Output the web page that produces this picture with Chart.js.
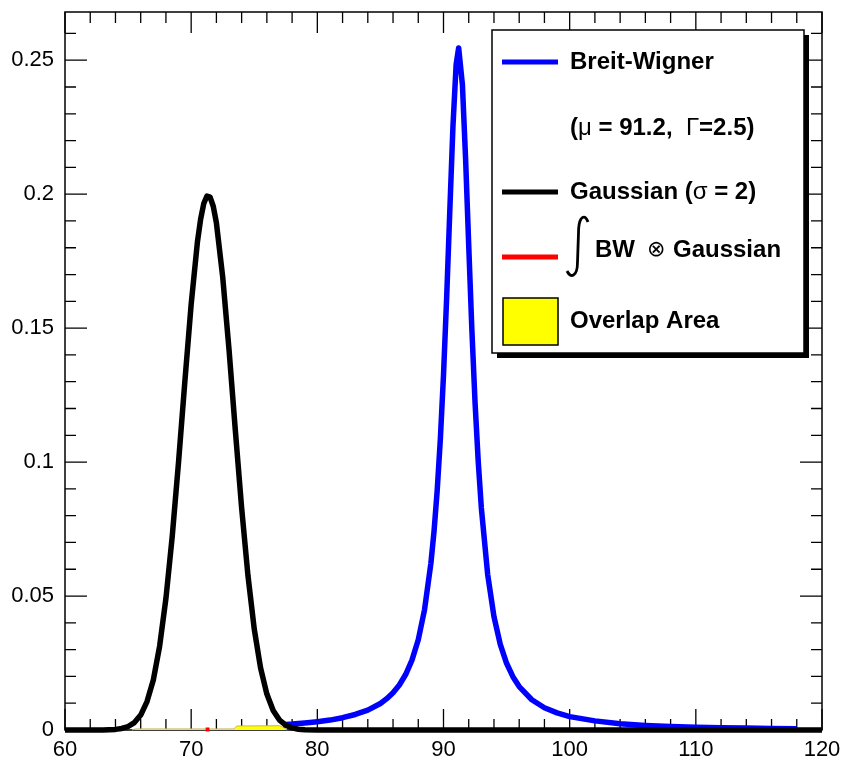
<!DOCTYPE html>
<html>
<head>
<meta charset="utf-8">
<script src="https://cdn.jsdelivr.net/npm/chart.js@4.4.0/dist/chart.umd.min.js"></script>
<style>
  body { margin: 0; background: #fff; }
  #wrap { width: 848px; height: 761px; }
</style>
</head>
<body>
<div id="wrap"><canvas id="c" width="848" height="761"></canvas></div>
<script>
// values
const gaussX = [60, 62, 63, 64, 64.5, 65, 65.5, 66, 66.5, 67, 67.5, 68, 68.5, 69, 69.5, 70, 70.5, 70.75, 71, 71.25,
  71.5, 71.75, 72, 72.5, 73, 73.5, 74, 74.5, 75, 75.5, 76, 76.5, 77, 77.5, 78, 78.5, 79, 80, 90, 100, 110, 120];
const gaussY = [0, 0, 0.00004, 0.00023, 0.00057, 0.00129, 0.00277, 0.00557, 0.0106, 0.0187, 0.0313, 0.0491, 0.0723, 0.1000, 0.1301,
  0.1589, 0.1823, 0.1907, 0.1965, 0.1993, 0.1989, 0.1955, 0.1893, 0.1691, 0.1420, 0.1119, 0.0829, 0.0577, 0.0377, 0.0232,
  0.0134, 0.0073, 0.0037, 0.0018, 0.0008, 0.0003, 0.0001, 0, 0, 0, 0, 0];

const bwX = [77.3, 78, 79, 80, 81, 82, 83, 84, 85, 85.5, 86, 86.5, 87, 87.5, 88, 88.5, 89, 89.25, 89.5, 89.75, 90, 90.25, 90.5,
  90.75, 91, 91.2, 91.5, 91.75, 92, 92.25, 92.5, 92.75, 93, 93.5, 94, 94.5, 95, 95.5, 96, 97, 98, 99, 100, 102, 104, 106,
  108, 110, 112, 114, 116, 118];
const bwY = [0.0020, 0.0022, 0.0026, 0.0031, 0.0037, 0.0046, 0.0058, 0.0074, 0.0099, 0.0117, 0.0139, 0.0168, 0.0207, 0.0261,
  0.0337, 0.0450, 0.0622, 0.0742, 0.0894, 0.1086, 0.1325, 0.1614, 0.1939, 0.2254, 0.2483, 0.2546, 0.2408, 0.2134, 0.1807,
  0.1493, 0.1223, 0.1004, 0.0829, 0.0581, 0.0423, 0.0320, 0.0249, 0.0199, 0.0162, 0.0113, 0.0083, 0.0064, 0.0050, 0.0034,
  0.0023, 0.0017, 0.0013, 0.0010, 0.0008, 0.0007, 0.0006, 0.0005];

const convX = [71.15, 71.45];
const convY = [0.0002, 0.0002];

const overlapX = [65.3, 65.6, 73.4, 73.6, 77.0, 77.3, 77.6];
const overlapY = [0, 0.0004, 0.0004, 0.0015, 0.0016, 0.0010, 0];

const xMin = 60, xMax = 120, yMin = 0, yMax = 0.268;
const xTickStep = 10, yTickStep = 0.05;

function pts(xs, ys) { return xs.map((x, i) => ({ x: x, y: ys[i] })); }

const FONT = '"Liberation Sans", Arial, Helvetica, sans-serif';

// ROOT-like frame with inward ticks on all four sides
const frame = {
  id: 'frame',
  beforeDatasetsDraw(chart) {
    const { ctx, chartArea: a, scales: { x, y } } = chart;
    ctx.save();
    ctx.strokeStyle = '#000';
    ctx.lineWidth = 1.5;
    ctx.strokeRect(a.left, a.top, a.right - a.left, a.bottom - a.top);
    ctx.lineWidth = 1.3;
    ctx.beginPath();
    for (let v = xMin; v <= xMax + 1e-9; v += 2) {
      const px = x.getPixelForValue(v);
      const len = (Math.abs(v % 10) < 1e-6) ? 21 : 11;
      ctx.moveTo(px, a.bottom); ctx.lineTo(px, a.bottom - len);
      ctx.moveTo(px, a.top); ctx.lineTo(px, a.top + len);
    }
    for (let i = 0; i * 0.01 <= yMax; i++) {
      const py = y.getPixelForValue(i * 0.01);
      const len = (i % 5 === 0) ? 22 : 11;
      ctx.moveTo(a.left, py); ctx.lineTo(a.left + len, py);
      ctx.moveTo(a.right, py); ctx.lineTo(a.right - len, py);
    }
    ctx.stroke();
    ctx.restore();
  }
};

function rich(ctx, parts, x, y) {
  let cx = x;
  parts.forEach(p => {
    ctx.font = p[1];
    ctx.fillText(p[0], cx, y);
    cx += ctx.measureText(p[0]).width;
  });
}

const legendBox = {
  id: 'legendBox',
  afterDraw(chart) {
    const ctx = chart.ctx;
    const bx = 492, by = 30, bw = 312, bh = 323;
    ctx.save();
    ctx.fillStyle = '#000';
    ctx.fillRect(bx + 5, by + 5, bw, bh);
    ctx.fillStyle = '#fff';
    ctx.fillRect(bx, by, bw, bh);
    ctx.strokeStyle = '#000';
    ctx.lineWidth = 1.5;
    ctx.strokeRect(bx, by, bw, bh);

    const bold = 'bold 24px ' + FONT;
    const sym = '24px ' + FONT;
    ctx.lineWidth = 5;
    const line = (col, yy) => {
      ctx.strokeStyle = col;
      ctx.beginPath(); ctx.moveTo(502, yy); ctx.lineTo(558, yy); ctx.stroke();
    };
    line('#0000ff', 62);
    line('#000000', 192);
    line('#ff0000', 257);

    ctx.fillStyle = '#ffff00';
    ctx.fillRect(503, 298, 55, 47);
    ctx.lineWidth = 1.5;
    ctx.strokeStyle = '#000';
    ctx.strokeRect(503, 298, 55, 47);

    ctx.fillStyle = '#000';
    ctx.textBaseline = 'middle';
    ctx.textAlign = 'left';
    rich(ctx, [['Breit-Wigner', bold]], 570, 62);
    rich(ctx, [['(', bold], ['\u03bc', sym], [' = 91.2,  ', bold], ['\u0393', sym], ['=2.5)', bold]], 570, 128);
    rich(ctx, [['Gaussian (', bold], ['\u03c3', sym], [' = 2)', bold]], 570, 192);
    rich(ctx, [['BW', bold]], 595, 250);
    rich(ctx, [['\u2297', '22px "DejaVu Sans", sans-serif']], 647, 250);
    rich(ctx, [['Gaussian', bold]], 673, 250);
    rich(ctx, [['Overlap Area', bold]], 570, 321);

    // integral sign
    ctx.strokeStyle = '#000';
    ctx.lineWidth = 2.8;
    ctx.beginPath();
    ctx.moveTo(588, 222);
    ctx.quadraticCurveTo(585, 214, 581, 219);
    ctx.quadraticCurveTo(578.5, 223, 578.5, 233);
    ctx.lineTo(577.5, 262);
    ctx.quadraticCurveTo(577.5, 273, 573.5, 275);
    ctx.quadraticCurveTo(570, 277, 567, 271);
    ctx.stroke();
    ctx.restore();
  }
};

new Chart(document.getElementById('c'), {
  type: 'line',
  data: {
    datasets: [
      { label: 'conv', data: pts(convX, convY), borderColor: '#ff0000', borderWidth: 4, pointRadius: 0, tension: 0, clip: false },
      { label: 'Gaussian', data: pts(gaussX, gaussY), borderColor: '#000000', borderWidth: 5.5, borderJoinStyle: 'round',
        pointRadius: 0, tension: 0, clip: false },
      { label: 'Breit-Wigner', data: pts(bwX, bwY), borderColor: '#0000ff', borderWidth: 5.5, borderJoinStyle: 'round',
        pointRadius: 0, tension: 0, clip: false },
      { label: 'Overlap', data: pts(overlapX, overlapY), borderColor: '#c9b75a', backgroundColor: '#ffff00', borderWidth: 1,
        fill: 'origin', pointRadius: 0, tension: 0, clip: false }
    ]
  },
  options: {
    responsive: false,
    animation: false,
    devicePixelRatio: 1,
    layout: { padding: { top: 12, right: 26, left: 0, bottom: 0 } },
    plugins: { legend: { display: false }, tooltip: { enabled: false } },
    scales: {
      x: {
        type: 'linear', min: xMin, max: xMax,
        grid: { display: false, drawTicks: false },
        border: { display: false },
        ticks: { stepSize: xTickStep, padding: 7, color: '#000', font: { family: FONT, size: 22 }, maxRotation: 0 },
        afterFit(s) { s.height = 31; s.paddingLeft = 0; s.paddingRight = 0; }
      },
      y: {
        type: 'linear', min: yMin, max: yMax,
        grid: { display: false, drawTicks: false },
        border: { display: false },
        ticks: {
          stepSize: yTickStep, padding: 11, color: '#000', font: { family: FONT, size: 22 },
          callback: v => String(Math.round(v * 100) / 100)
        },
        afterBuildTicks(s) {
          s.ticks = s.ticks.filter(t => Math.abs(t.value / yTickStep - Math.round(t.value / yTickStep)) < 1e-6);
        },
        afterFit(s) { s.width = 65; s.paddingTop = 0; s.paddingBottom = 0; }
      }
    }
  },
  plugins: [frame, legendBox]
});
</script>
</body>
</html>
